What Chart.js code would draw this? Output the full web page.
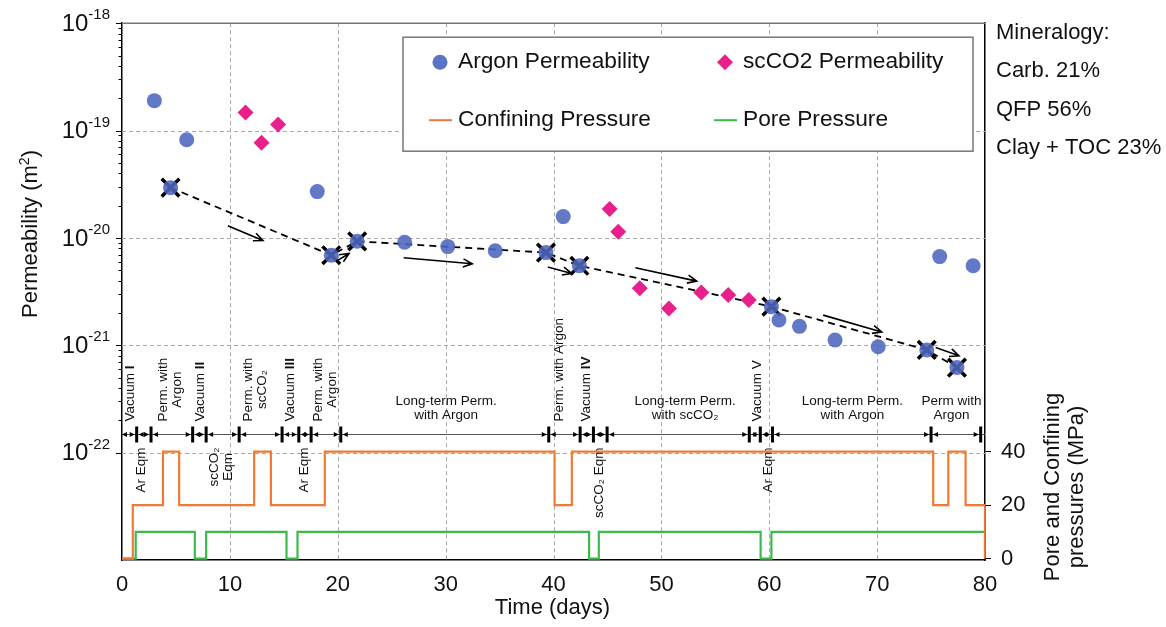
<!DOCTYPE html>
<html>
<head>
<meta charset="utf-8">
<script src="https://cdn.jsdelivr.net/npm/chart.js@4.4.0/dist/chart.umd.min.js"></script>
<style>
  html, body { margin: 0; padding: 0; background: #fff; }
  #wrap { width: 1166px; height: 627px; }
</style>
</head>
<body>
<div id="wrap"><canvas id="grafico" width="1166" height="627"></canvas></div>
<script>
// Permeabilidade medida (dias, m2)
const argonDias = [3.0, 4.5, 6.0, 18.1, 19.4, 21.8, 26.2, 30.2, 34.6, 39.3, 40.9, 42.4, 60.2, 60.9, 62.8, 66.1, 70.1, 74.6, 75.8, 77.4, 78.9];
const argonPerm = [1.9e-19, 2.94e-20, 8.2e-20, 2.7e-20, 6.9e-21, 9.3e-21, 9.1e-21, 8.3e-21, 7.6e-21, 7.3e-21, 1.58e-20, 5.5e-21, 2.29e-21, 1.72e-21, 1.5e-21, 1.12e-21, 9.7e-22, 9.05e-22, 6.7e-21, 6.2e-22, 5.5e-21];
const co2Dias = [11.45, 12.94, 14.47, 45.2, 46.0, 48.0, 50.7, 53.7, 56.2, 58.1];
const co2Perm = [1.47e-19, 7.7e-20, 1.14e-19, 1.86e-20, 1.14e-20, 3.4e-21, 2.2e-21, 3.1e-21, 2.94e-21, 2.64e-21];

// pontos da tendência (marcados com X)
const tendDias = [4.5, 19.4, 21.8, 39.3, 42.4, 60.2, 74.6, 77.4];
const tendPerm = [2.94e-20, 6.9e-21, 9.3e-21, 7.3e-21, 5.5e-21, 2.29e-21, 9.05e-22, 6.2e-22];

// setas: início e fim em (dias, m2)
const setaIni = [[9.81, 1.30e-20], [19.88, 6.08e-21], [26.11, 6.53e-21], [39.47, 5.35e-21], [47.59, 5.27e-21], [65.0, 1.91e-21], [75.43, 9.55e-22]];
const setaFim = [[13.06, 9.46e-21], [21.05, 7.16e-21], [32.47, 5.75e-21], [41.69, 4.67e-21], [53.27, 3.96e-21], [70.43, 1.33e-21], [77.59, 7.98e-22]];

// pressões (MPa) - valor vale a partir do dia indicado
const confDias = [0, 1.0, 3.8, 5.3, 12.25, 13.8, 18.8, 40.1, 41.7, 75.2, 76.6, 78.2, 80];
const confMPa  = [0, 20, 40, 20, 40, 20, 40, 20, 40, 20, 40, 20, 0];
const poroDias = [0, 1.27, 6.75, 7.8, 15.25, 16.27, 43.3, 44.2, 59.2, 60.2, 80];
const poroMPa  = [0, 10, 0, 10, 0, 10, 0, 10, 0, 10, 0];

// limites das etapas na linha do tempo (dias)
const fases = [1.36, 2.69, 6.55, 7.8, 10.86, 14.84, 16.39, 17.53, 20.28, 39.56, 42.47, 43.7, 44.97, 58.15, 59.17, 60.3, 75.0, 79.6];

const expoentes = [-18, -19, -20, -21, -22];
const pressTicks = [0, 20, 40];
const mineralogia = ['Mineralogy:', 'Carb. 21%', 'QFP 56%', 'Clay + TOC 23%'];

// nomes das etapas (num = numeral em negrito)
const etiquetas = [
    { t: ['Vacuum'], num: 'I', d: 0.74, lado: 'cima', rot: true },
    { t: ['Perm. with', 'Argon'], d: 4.43, lado: 'cima', rot: true },
    { t: ['Vacuum'], num: 'II', d: 7.22, lado: 'cima', rot: true },
    { t: ['Perm. with', 'scCO₂'], d: 12.36, lado: 'cima', rot: true },
    { t: ['Vacuum'], num: 'III', d: 15.56, lado: 'cima', rot: true },
    { t: ['Perm. with', 'Argon'], d: 18.83, lado: 'cima', rot: true },
    { t: ['Long-term Perm.', 'with Argon'], d: 30.05, lado: 'cima', rot: false },
    { t: ['Perm. with Argon'], d: 40.56, lado: 'cima', rot: true },
    { t: ['Vacuum'], num: 'IV', d: 43.08, lado: 'cima', rot: true },
    { t: ['Long-term Perm.', 'with scCO₂'], d: 52.2, lado: 'cima', rot: false },
    { t: ['Vacuum V'], d: 58.9, lado: 'cima', rot: true },
    { t: ['Long-term Perm.', 'with Argon'], d: 67.7, lado: 'cima', rot: false },
    { t: ['Perm with', 'Argon'], d: 76.9, lado: 'cima', rot: false },
    { t: ['Ar Eqm'], d: 1.82, lado: 'baixo', rot: true },
    { t: ['scCO₂', 'Eqm'], d: 9.23, lado: 'baixo', rot: true },
    { t: ['Ar Eqm'], d: 16.94, lado: 'baixo', rot: true },
    { t: ['scCO₂ Eqm'], d: 44.26, lado: 'baixo', rot: true },
    { t: ['Ar Eqm'], d: 59.94, lado: 'baixo', rot: true }
];
const nivelLinhaTempo = 1.5e-22;

const FONTE = "'Liberation Sans', Arial, sans-serif";
const azul = '#5b73c4';
const rosa = '#e8208c';
const laranja = '#f07a35';
const verde = '#3dba4a';

const pares = (xs, ys) => xs.map((x, i) => ({ x: x, y: ys[i] }));

function seta(ctx, x1, y1, x2, y2) {
    const ang = Math.atan2(y2 - y1, x2 - x1);
    const L = 10, a = 0.42;
    ctx.beginPath();
    ctx.moveTo(x1, y1);
    ctx.lineTo(x2, y2);
    ctx.moveTo(x2 - L * Math.cos(ang - a), y2 - L * Math.sin(ang - a));
    ctx.lineTo(x2, y2);
    ctx.lineTo(x2 - L * Math.cos(ang + a), y2 - L * Math.sin(ang + a));
    ctx.stroke();
}

function pontinha(ctx, x, y, dir) {
    // pequena ponta de seta apontando para dir (+1 direita, -1 esquerda)
    ctx.beginPath();
    ctx.moveTo(x, y);
    ctx.lineTo(x - dir * 5, y - 2.5);
    ctx.lineTo(x - dir * 5, y + 2.5);
    ctx.closePath();
    ctx.fill();
}

const desenhos = {
    id: 'desenhos',
    beforeDraw(chart) {
        const ctx = chart.ctx;
        ctx.save();
        ctx.fillStyle = '#fff';
        ctx.fillRect(0, 0, chart.width, chart.height);
        ctx.restore();
    },
    beforeDatasetsDraw(chart) {
        const ctx = chart.ctx, a = chart.chartArea;
        const xs = chart.scales.x, ys = chart.scales.y;
        ctx.save();
        // grade tracejada
        ctx.strokeStyle = '#aaa';
        ctx.lineWidth = 1;
        ctx.setLineDash([4, 3]);
        for (let d = 10; d < 80; d += 10) {
            const px = Math.round(xs.getPixelForValue(d)) + 0.5;
            ctx.beginPath(); ctx.moveTo(px, a.top); ctx.lineTo(px, a.bottom); ctx.stroke();
        }
        expoentes.slice(1).forEach(e => {
            const py = Math.round(ys.getPixelForValue(Math.pow(10, e))) + 0.5;
            ctx.beginPath(); ctx.moveTo(a.left, py); ctx.lineTo(a.right, py); ctx.stroke();
        });
        ctx.setLineDash([]);
        // borda superior
        ctx.strokeStyle = '#777';
        ctx.lineWidth = 1.5;
        ctx.beginPath(); ctx.moveTo(a.left, a.top); ctx.lineTo(a.right, a.top); ctx.stroke();

        // linha do tempo das etapas
        const yl = Math.round(ys.getPixelForValue(nivelLinhaTempo)) + 0.5;
        ctx.strokeStyle = '#555';
        ctx.lineWidth = 1;
        ctx.beginPath(); ctx.moveTo(a.left, yl); ctx.lineTo(a.right, yl); ctx.stroke();
        ctx.fillStyle = '#000';
        fases.forEach(f => {
            const px = xs.getPixelForValue(f);
            ctx.fillRect(px - 1.5, yl - 8, 3, 16);
        });
        const limites = [0].concat(fases);
        for (let i = 0; i < limites.length - 1; i++) {
            const p1 = xs.getPixelForValue(limites[i]);
            const p2 = xs.getPixelForValue(limites[i + 1]);
            pontinha(ctx, p1 + (i === 0 ? 0 : 2), yl, -1);
            pontinha(ctx, p2 - 2, yl, 1);
        }

        // textos das etapas
        const fN = '13.5px ' + FONTE, fB = 'bold 13.5px ' + FONTE;
        ctx.fillStyle = '#111';
        const lh = 14;
        etiquetas.forEach(e => {
            const px = xs.getPixelForValue(e.d);
            const n = e.t.length;
            ctx.font = fN;
            if (!e.rot) {
                ctx.textAlign = 'center';
                ctx.textBaseline = 'middle';
                e.t.forEach((s, i) => ctx.fillText(s, px, yl - 33 + i * lh));
                return;
            }
            ctx.save();
            if (e.num) {
                // "Vacuum" normal + numeral em negrito
                const w1 = ctx.measureText(e.t[0] + ' ').width;
                ctx.translate(px, yl - 13);
                ctx.rotate(-Math.PI / 2);
                ctx.textAlign = 'left';
                ctx.textBaseline = 'middle';
                ctx.fillText(e.t[0] + ' ', 0, 0);
                ctx.font = fB;
                ctx.fillText(e.num, w1, 0);
                ctx.restore();
                return;
            }
            const W = Math.max(...e.t.map(s => ctx.measureText(s).width));
            if (e.lado === 'cima') {
                ctx.translate(px, yl - 13);
            } else {
                ctx.translate(px, yl + 13 + W);
            }
            ctx.rotate(-Math.PI / 2);
            ctx.textAlign = 'center';
            ctx.textBaseline = 'middle';
            e.t.forEach((s, i) => ctx.fillText(s, W / 2, (i - (n - 1) / 2) * lh));
            ctx.restore();
        });
        ctx.restore();
    },
    afterDatasetsDraw(chart) {
        const ctx = chart.ctx, a = chart.chartArea;
        const xs = chart.scales.x, ys = chart.scales.y;
        ctx.save();
        // setas
        ctx.strokeStyle = '#000';
        ctx.lineWidth = 1.6;
        setaIni.forEach((p, i) => {
            const q = setaFim[i];
            seta(ctx, xs.getPixelForValue(p[0]), ys.getPixelForValue(p[1]),
                xs.getPixelForValue(q[0]), ys.getPixelForValue(q[1]));
        });

        // legenda
        const lx = a.left + 281, ly = a.top + 14, lw = 570, lhh = 114;
        ctx.fillStyle = '#fff';
        ctx.fillRect(lx, ly, lw, lhh);
        ctx.strokeStyle = '#777';
        ctx.lineWidth = 1.5;
        ctx.strokeRect(lx, ly, lw, lhh);
        const r1 = ly + 25, r2 = ly + 83;
        ctx.fillStyle = azul;
        ctx.beginPath(); ctx.arc(lx + 37, r1, 7.5, 0, Math.PI * 2); ctx.fill();
        ctx.fillStyle = rosa;
        ctx.beginPath();
        ctx.moveTo(lx + 322, r1 - 8); ctx.lineTo(lx + 330, r1);
        ctx.lineTo(lx + 322, r1 + 8); ctx.lineTo(lx + 314, r1);
        ctx.closePath(); ctx.fill();
        ctx.lineWidth = 2;
        ctx.strokeStyle = laranja;
        ctx.beginPath(); ctx.moveTo(lx + 26, r2); ctx.lineTo(lx + 49, r2); ctx.stroke();
        ctx.strokeStyle = verde;
        ctx.beginPath(); ctx.moveTo(lx + 311, r2); ctx.lineTo(lx + 334, r2); ctx.stroke();
        ctx.fillStyle = '#111';
        ctx.font = '22.7px ' + FONTE;
        ctx.textAlign = 'left';
        ctx.textBaseline = 'middle';
        ctx.fillText('Argon Permeability', lx + 55, r1);
        ctx.fillText('scCO2 Permeability', lx + 340, r1);
        ctx.fillText('Confining Pressure', lx + 55, r2);
        ctx.fillText('Pore Pressure', lx + 340, r2);
        ctx.restore();
    },
    afterDraw(chart) {
        const ctx = chart.ctx, a = chart.chartArea;
        const ys = chart.scales.y;
        ctx.save();
        ctx.strokeStyle = '#000';
        ctx.lineWidth = 1;
        // marcas do eixo log
        expoentes.forEach(e => {
            const py = Math.round(ys.getPixelForValue(Math.pow(10, e))) + 0.5;
            ctx.beginPath(); ctx.moveTo(a.left - 6, py); ctx.lineTo(a.left, py); ctx.stroke();
        });
        for (let e = -22; e < -18; e++) {
            for (let m = 2; m <= 9; m++) {
                const py = Math.round(ys.getPixelForValue(m * Math.pow(10, e))) + 0.5;
                ctx.beginPath(); ctx.moveTo(a.left - 3.5, py); ctx.lineTo(a.left, py); ctx.stroke();
            }
        }
        // rótulos 10^n
        ctx.fillStyle = '#111';
        expoentes.forEach(e => {
            const py = ys.getPixelForValue(Math.pow(10, e));
            const sup = String(e);
            ctx.font = '15px ' + FONTE;
            const ws = ctx.measureText(sup).width;
            ctx.textAlign = 'left';
            ctx.textBaseline = 'alphabetic';
            ctx.fillText(sup, 110 - ws, py - 4);
            ctx.font = '24px ' + FONTE;
            ctx.textAlign = 'right';
            ctx.textBaseline = 'middle';
            ctx.fillText('10', 110 - ws, py + 1);
        });

        // títulos dos eixos
        ctx.font = '22px ' + FONTE;
        ctx.textBaseline = 'middle';
        ctx.textAlign = 'center';
        ctx.fillText('Time (days)', (a.left + a.right) / 2 - 1, 608);

        ctx.save();
        ctx.translate(31, 234);
        ctx.rotate(-Math.PI / 2);
        const t1 = 'Permeability (m', t2 = ')';
        ctx.font = '22px ' + FONTE;
        const w1 = ctx.measureText(t1).width, w3 = ctx.measureText(t2).width;
        ctx.font = '14px ' + FONTE;
        const w2 = ctx.measureText('2').width;
        let x0 = -(w1 + w2 + w3) / 2;
        ctx.textAlign = 'left';
        ctx.font = '22px ' + FONTE;
        ctx.fillText(t1, x0, 0);
        ctx.font = '14px ' + FONTE;
        ctx.fillText('2', x0 + w1, -6);
        ctx.font = '22px ' + FONTE;
        ctx.fillText(t2, x0 + w1 + w2, 0);
        ctx.restore();

        ctx.save();
        ctx.translate(a.right + 80, 487);
        ctx.rotate(-Math.PI / 2);
        ctx.textAlign = 'center';
        ctx.fillText('Pore and Confining', 0, -12);
        ctx.fillText('pressures (MPa)', 0, 12);
        ctx.restore();

        // mineralogia
        ctx.textAlign = 'left';
        mineralogia.forEach((s, i) => ctx.fillText(s, a.right + 11, 33 + i * 38.3));
        ctx.restore();
    }
};

const ctx = document.getElementById('grafico').getContext('2d');
const grafico = new Chart(ctx, {
    type: 'line',
    data: {
        datasets: [
            {
                label: 'Argon Permeability',
                data: pares(argonDias, argonPerm),
                yAxisID: 'y',
                showLine: false,
                pointStyle: 'circle',
                pointRadius: 7.5,
                pointBackgroundColor: 'rgba(78,102,190,0.88)',
                pointBorderWidth: 0,
                order: 1
            },
            {
                label: 'scCO2 Permeability',
                data: pares(co2Dias, co2Perm),
                yAxisID: 'y',
                showLine: false,
                pointStyle: 'rectRot',
                pointRadius: 8,
                pointBackgroundColor: rosa,
                pointBorderWidth: 0,
                order: 1
            },
            {
                label: 'marcas',
                data: pares(tendDias, tendPerm),
                yAxisID: 'y',
                showLine: false,
                pointStyle: 'crossRot',
                pointRadius: 12.5,
                pointBorderColor: '#000',
                pointBorderWidth: 3.5,
                order: 2
            },
            {
                label: 'tendencia',
                data: pares(tendDias, tendPerm),
                yAxisID: 'y',
                borderColor: '#000',
                borderWidth: 1.8,
                borderDash: [7, 5],
                pointRadius: 0,
                order: 3
            },
            {
                label: 'Confining Pressure',
                data: pares(confDias, confMPa),
                yAxisID: 'y2',
                stepped: 'before',
                borderColor: laranja,
                borderWidth: 2.2,
                pointRadius: 0,
                order: 4
            },
            {
                label: 'Pore Pressure',
                data: pares(poroDias, poroMPa),
                yAxisID: 'y2',
                stepped: 'before',
                borderColor: verde,
                borderWidth: 2.2,
                pointRadius: 0,
                order: 5
            }
        ]
    },
    options: {
        responsive: false,
        animation: false,
        devicePixelRatio: 1,
        layout: { padding: { top: 23, left: 0, right: 0, bottom: 0 } },
        plugins: {
            legend: { display: false },
            tooltip: { enabled: false }
        },
        scales: {
            x: {
                type: 'linear',
                min: 0,
                max: 80,
                ticks: { stepSize: 10, padding: 12, color: '#111', font: { size: 22, family: FONTE } },
                grid: { drawOnChartArea: false, drawTicks: false },
                border: { color: '#000', width: 1.5 },
                afterFit: s => { s.height = 67; }
            },
            y: {
                type: 'logarithmic',
                position: 'left',
                min: 1e-23,
                max: 1e-18,
                ticks: { display: false },
                grid: { display: false, drawTicks: false },
                border: { color: '#000', width: 1.5 },
                afterFit: s => { s.width = 122; }
            },
            y2: {
                type: 'linear',
                position: 'right',
                min: -0.5,
                max: 200,
                afterBuildTicks: s => { s.ticks = pressTicks.map(v => ({ value: v })); },
                ticks: { padding: 10, color: '#111', font: { size: 22, family: FONTE } },
                grid: { drawOnChartArea: false, tickLength: 6, tickColor: '#000' },
                border: { color: '#000', width: 1.5 },
                afterFit: s => { s.width = 181; }
            }
        }
    },
    plugins: [desenhos]
});
</script>
</body>
</html>
